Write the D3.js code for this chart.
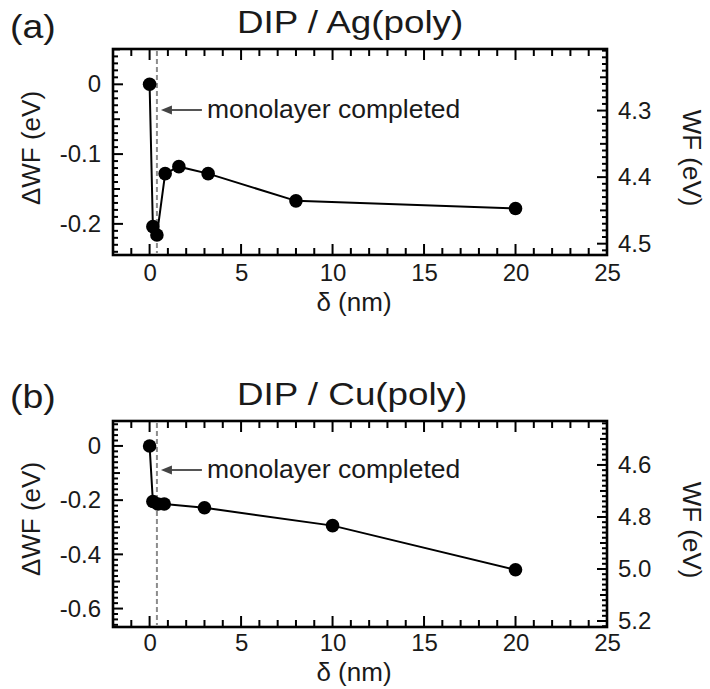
<!DOCTYPE html>
<html><head><meta charset="utf-8">
<script src="https://cdn.jsdelivr.net/npm/d3@7"></script>
<style>
body{margin:0;background:#fff}
svg{display:block}
text{font-family:"Liberation Sans",Arial,Helvetica,sans-serif;fill:#1a1a1a}
</style>
</head><body>
<svg id="chart" width="710" height="689"></svg>
<script>
// ---------- data ----------
const thicknessAg = [0, 0.18, 0.4, 0.85, 1.6, 3.2, 8.0, 20.0];
const dwfAg       = [0, -0.204, -0.216, -0.128, -0.118, -0.128, -0.167, -0.178];
const thicknessCu = [0, 0.18, 0.45, 0.8, 3.0, 10.0, 20.0];
const dwfCu       = [0, -0.205, -0.214, -0.214, -0.228, -0.294, -0.457];
const monolayerThickness = 0.4;

const xTickValues = [0, 5, 10, 15, 20, 25];
const dwfTicksAg  = [0, -0.1, -0.2];
const wfTicksAg   = [4.3, 4.4, 4.5];
const dwfTicksCu  = [0, -0.2, -0.4, -0.6];
const wfTicksCu   = [4.6, 4.8, 5.0, 5.2];

const titles      = ["DIP / Ag(poly)", "DIP / Cu(poly)"];
const panelLabels = ["(a)", "(b)"];
const xLabel = "δ (nm)", yLabel = "ΔWF (eV)", y2Label = "WF (eV)";
const annotation = "monolayer completed";

// ---------- layout ----------
const panels = [
  { x: thicknessAg, y: dwfAg, yTicks: dwfTicksAg, y2Ticks: wfTicksAg, y2Fmt: d3.format(".1f"),
    left: 113, right: 607, top: 49, bottom: 255,
    xDomain: [-2, 25], yDomain: [-0.2446, 0.0506], y2Domain: [4.2075, 4.517],
    yMinor: 0.01, yMid: 0.05, y2Minor: 0.01, y2Mid: 0.05, xPad: 9,
    titleBase: 33, xTitleBase: 311, yTitleC: 148, y2TitleC: 158, annotY: 110, labelTop: 38 },
  { x: thicknessCu, y: dwfCu, yTicks: dwfTicksCu, y2Ticks: wfTicksCu, y2Fmt: d3.format(".1f"),
    left: 113, right: 607, top: 421, bottom: 627,
    xDomain: [-2, 25], yDomain: [-0.668, 0.092], y2Domain: [4.431, 5.223],
    yMinor: 0.02, yMid: 0.1, y2Minor: 0.02, y2Mid: 0.1, xPad: 7,
    titleBase: 405, xTitleBase: 681, yTitleC: 519, y2TitleC: 530, annotY: 470, labelTop: 408 }
];

const svg = d3.select("#chart");

function stepTicks(domain, step) {
  const lo = Math.min(...domain), hi = Math.max(...domain);
  const a = Math.ceil(lo / step - 1e-9), b = Math.floor(hi / step + 1e-9);
  return d3.range(a, b + 1).map(i => +(i * step).toFixed(6));
}
const fmtLeft = v => (Math.abs(v) < 1e-9 ? "0" : String(+v.toFixed(3)));
const isMult = (v, s) => Math.abs(v / s - Math.round(v / s)) < 1e-6;

panels.forEach((p, i) => {
  const g = svg.append("g");
  const x = d3.scaleLinear().domain(p.xDomain).range([p.left, p.right]);
  const y = d3.scaleLinear().domain(p.yDomain).range([p.bottom, p.top]);
  const y2 = d3.scaleLinear().domain(p.y2Domain).range([p.top, p.bottom]);

  // frame
  g.append("rect").attr("x", p.left).attr("y", p.top)
    .attr("width", p.right - p.left).attr("height", p.bottom - p.top)
    .attr("fill", "none").attr("stroke", "#000").attr("stroke-width", 2.6);

  // ---- tick marks (inward) ----
  const tickSegs = [];
  stepTicks(p.xDomain, 1).forEach(v => {
    const len = xTickValues.includes(v) ? 11 : 7;
    tickSegs.push([x(v), p.bottom, x(v), p.bottom - len]);
    tickSegs.push([x(v), p.top, x(v), p.top + len]);
  });
  stepTicks(p.yDomain, p.yMinor).forEach(v => {
    const len = p.yTicks.some(t => Math.abs(t - v) < 1e-9) ? 10 : (isMult(v, p.yMid) ? 7 : 5);
    tickSegs.push([p.left, y(v), p.left + len, y(v)]);
  });
  stepTicks(p.y2Domain, p.y2Minor).forEach(v => {
    const len = p.y2Ticks.some(t => Math.abs(t - v) < 1e-9) ? 10 : (isMult(v, p.y2Mid) ? 7 : 5);
    tickSegs.push([p.right, y2(v), p.right - len, y2(v)]);
  });
  g.append("g").selectAll("line").data(tickSegs).join("line")
    .attr("x1", s => s[0]).attr("y1", s => s[1]).attr("x2", s => s[2]).attr("y2", s => s[3])
    .style("stroke", "#000").style("stroke-width", "2px");

  // ---- tick labels via d3 axes ----
  function labelAxis(sel) {
    sel.select(".domain").remove();
    sel.selectAll(".tick line").remove();
    sel.selectAll(".tick text").style("font-size", "24px").attr("fill", "#1a1a1a");
  }
  g.append("g").attr("transform", `translate(0,${p.bottom})`)
    .call(d3.axisBottom(x).tickValues(xTickValues).tickSize(0).tickPadding(p.xPad).tickFormat(d3.format("d")))
    .call(labelAxis);
  g.append("g").attr("transform", `translate(${p.left},0)`)
    .call(d3.axisLeft(y).tickValues(p.yTicks).tickSize(0).tickPadding(12).tickFormat(fmtLeft))
    .call(labelAxis);
  g.append("g").attr("transform", `translate(${p.right},0)`)
    .call(d3.axisRight(y2).tickValues(p.y2Ticks).tickSize(0).tickPadding(11).tickFormat(p.y2Fmt))
    .call(labelAxis);

  // monolayer dashed line
  const xd = x(monolayerThickness);
  g.append("line").attr("x1", xd).attr("x2", xd).attr("y1", p.top + 2).attr("y2", p.bottom - 2)
    .attr("stroke", "#8c8c8c").attr("stroke-width", 2).attr("stroke-dasharray", "5,3");

  // annotation arrow + text
  g.append("line").attr("x1", xd + 45).attr("x2", xd + 12).attr("y1", p.annotY).attr("y2", p.annotY)
    .attr("stroke", "#555").attr("stroke-width", 1.8);
  g.append("path")
    .attr("d", `M${xd + 4},${p.annotY} L${xd + 15},${p.annotY - 4.5} L${xd + 15},${p.annotY + 4.5} Z`)
    .attr("fill", "#444");
  g.append("text").attr("x", xd + 50).attr("y", p.annotY + 7.5)
    .style("font-size", "26.5px").text(annotation);

  // data line + markers
  const pts = p.x.map((v, k) => [v, p.y[k]]);
  g.append("path").datum(pts)
    .attr("d", d3.line().x(q => x(q[0])).y(q => y(q[1])))
    .attr("fill", "none").attr("stroke", "#000").attr("stroke-width", 2);
  g.selectAll("circle.pt").data(pts).join("circle").attr("class", "pt")
    .attr("cx", q => x(q[0])).attr("cy", q => y(q[1])).attr("r", 6.8).attr("fill", "#000");

  // axis titles
  g.append("text").attr("x", (p.left + p.right) / 2 - 6).attr("y", p.xTitleBase)
    .attr("text-anchor", "middle").style("font-size", "26px").text(xLabel);
  g.append("text").attr("transform", `translate(40,${p.yTitleC}) rotate(-90)`)
    .attr("text-anchor", "middle").style("font-size", "26px").text(yLabel);
  g.append("text").attr("transform", `translate(683,${p.y2TitleC}) rotate(90)`)
    .attr("text-anchor", "middle").style("font-size", "26px").text(y2Label);

  // title + panel label
  g.append("text").attr("transform", `translate(237,${p.titleBase}) scale(1.15,1)`)
    .style("font-size", "32px").text(titles[i]);
  g.append("text").attr("transform", `translate(10,${p.labelTop}) scale(1.1,1)`)
    .style("font-size", "34px").text(panelLabels[i]);
});
</script>
</body></html>
